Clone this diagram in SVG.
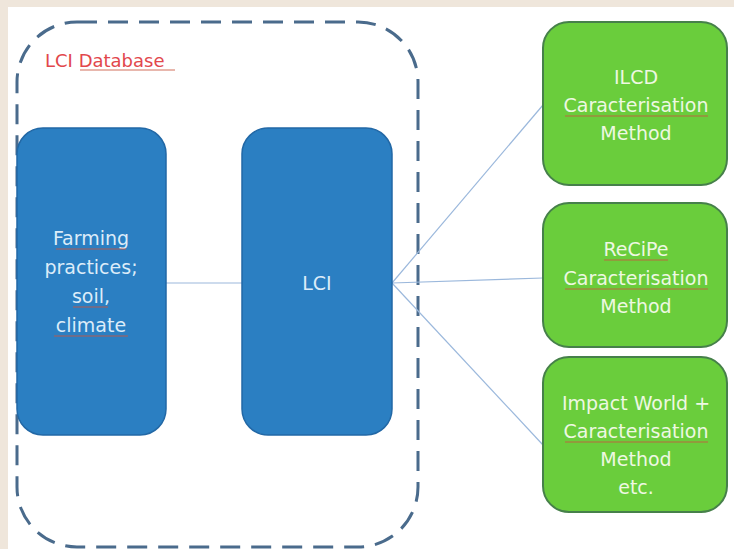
<svg xmlns="http://www.w3.org/2000/svg" width="734" height="549" viewBox="0 0 734 549">
<style>
  .blue { fill: #2b7fc2; stroke: #2268a6; stroke-width: 1.5; }
  .green { fill: #6acd3c; stroke: #46804a; stroke-width: 2; }
  .tb { font-family: "DejaVu Sans", "Liberation Sans", sans-serif; font-size: 19px; fill: #dcecf9; text-anchor: middle; }
  .tg { font-family: "DejaVu Sans", "Liberation Sans", sans-serif; font-size: 19px; fill: #eef8e2; text-anchor: middle; }
  .sq { stroke: #c9573f; stroke-width: 1.2; fill: none; opacity: 0.85; }
  .conn { stroke: #9bb8dc; stroke-width: 1.2; fill: none; }
</style>
<rect x="0" y="0" width="734" height="549" fill="#efe6db"/>
<rect x="8" y="7" width="726" height="542" fill="#ffffff"/>

<g id="lci-database">
  <rect x="17" y="22" width="401" height="525" rx="60" ry="60" fill="none" stroke="#4a6b8c" stroke-width="3" stroke-dasharray="20 11"/>
  <text x="45" y="67" font-family="DejaVu Sans, Liberation Sans, sans-serif" font-size="18" fill="#e2474c">LCI Database</text>
  <line x1="80" y1="70" x2="175" y2="70" class="sq"/>
</g>

<g id="connectors">
  <line class="conn" x1="166" y1="283" x2="242" y2="283"/>
  <line class="conn" x1="392" y1="283" x2="543" y2="105"/>
  <line class="conn" x1="392" y1="283" x2="543" y2="278"/>
  <line class="conn" x1="392" y1="283" x2="543" y2="445"/>
</g>

<g id="farming">
  <rect class="blue" x="17" y="128" width="149" height="307" rx="26" ry="26"/>
  <text class="tb" x="91" y="245">Farming</text>
  <text class="tb" x="91" y="274">practices;</text>
  <text class="tb" x="91" y="303">soil,</text>
  <text class="tb" x="91" y="332">climate</text>
  <line class="sq" x1="56" y1="249" x2="126" y2="249"/>
  <line class="sq" x1="73" y1="307" x2="108" y2="307"/>
  <line class="sq" x1="54" y1="336" x2="128" y2="336"/>
</g>

<g id="lci">
  <rect class="blue" x="242" y="128" width="150" height="307" rx="26" ry="26"/>
  <text class="tb" x="317" y="290">LCI</text>
</g>

<g id="ilcd">
  <rect class="green" x="543" y="22" width="184" height="163" rx="26" ry="26"/>
  <text class="tg" x="636" y="84">ILCD</text>
  <text class="tg" x="636" y="112">Caracterisation</text>
  <text class="tg" x="636" y="140">Method</text>
  <line class="sq" x1="565" y1="116" x2="708" y2="116"/>
</g>

<g id="recipe">
  <rect class="green" x="543" y="203" width="184" height="144" rx="26" ry="26"/>
  <text class="tg" x="636" y="256">ReCiPe</text>
  <text class="tg" x="636" y="285">Caracterisation</text>
  <text class="tg" x="636" y="313">Method</text>
  <line class="sq" x1="604" y1="260" x2="668" y2="260"/>
  <line class="sq" x1="565" y1="289" x2="708" y2="289"/>
</g>

<g id="impact-world">
  <rect class="green" x="543" y="357" width="184" height="155" rx="26" ry="26"/>
  <text class="tg" x="636" y="410">Impact World +</text>
  <text class="tg" x="636" y="438">Caracterisation</text>
  <text class="tg" x="636" y="466">Method</text>
  <text class="tg" x="636" y="494">etc.</text>
  <line class="sq" x1="565" y1="442" x2="708" y2="442"/>
</g>
</svg>
